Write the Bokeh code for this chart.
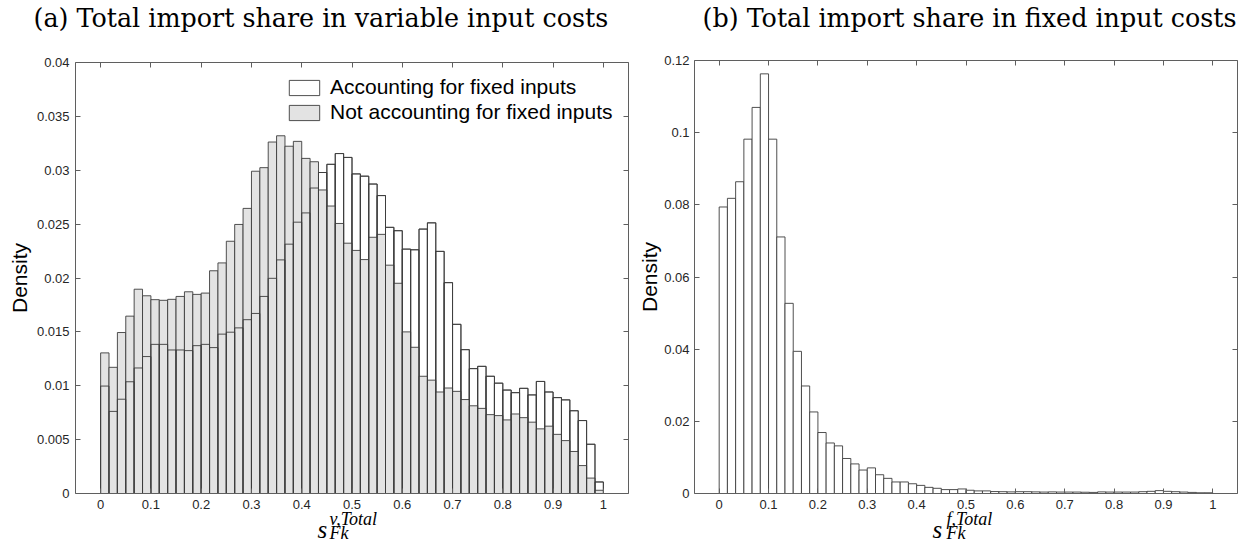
import numpy as np
from bokeh.plotting import figure
from bokeh.layouts import row
from bokeh.models import (FixedTicker, LinearAxis, Label, Legend, LegendItem, Range1d,
                          CustomJSTickFormatter)
from bokeh.embed import file_html
from bokeh.resources import INLINE

# ---------------- data (densities per bin, 60 bins on [0, 1]) ----------------
N_BINS = 60
accounting_fixed = [
    0.00997, 0.00762, 0.00875, 0.01037, 0.01165, 0.01271, 0.01384, 0.01384, 0.01332, 0.01332,
    0.01326, 0.01372, 0.01384, 0.01354, 0.01479, 0.01497, 0.01537, 0.01613, 0.01671, 0.01829,
    0.01997, 0.02168, 0.02314, 0.02518, 0.02604, 0.02835, 0.02979, 0.03055, 0.03155, 0.03119,
    0.02966, 0.02945, 0.02872, 0.02765, 0.02470, 0.02439, 0.02268, 0.02262, 0.02454, 0.02512,
    0.02247, 0.01957, 0.01570, 0.01335, 0.01159, 0.01180, 0.01088, 0.01024, 0.00960, 0.00936,
    0.00976, 0.00915, 0.01040, 0.00942, 0.00890, 0.00869, 0.00768, 0.00677, 0.00457, 0.00107,
]
not_accounting_fixed = [
    0.01305, 0.01171, 0.01494, 0.01646, 0.01896, 0.01835, 0.01799, 0.01793, 0.01802, 0.01829,
    0.01872, 0.01848, 0.01860, 0.02067, 0.02140, 0.02341, 0.02497, 0.02646, 0.02991, 0.03024,
    0.03262, 0.03320, 0.03223, 0.03268, 0.03110, 0.03079, 0.02817, 0.02668, 0.02506, 0.02323,
    0.02256, 0.02171, 0.02378, 0.02405, 0.02119, 0.01951, 0.01500, 0.01357, 0.01088, 0.01052,
    0.00942, 0.00979, 0.00948, 0.00872, 0.00814, 0.00790, 0.00732, 0.00723, 0.00683, 0.00738,
    0.00704, 0.00662, 0.00600, 0.00625, 0.00549, 0.00491, 0.00390, 0.00259, 0.00143, 0.00030,
]
fixed_cost_share = [
    0.0794, 0.0818, 0.0864, 0.0982, 0.1070, 0.1163, 0.0982, 0.0711, 0.0527, 0.0394,
    0.0298, 0.0226, 0.0169, 0.0140, 0.0132, 0.0097, 0.0082, 0.0065, 0.0071, 0.0052,
    0.0042, 0.0032, 0.0032, 0.0027, 0.00225, 0.0017, 0.00144, 0.00108, 0.00108, 0.00126,
    0.0009, 0.00072, 0.00072, 0.00054, 0.0005, 0.00045, 0.0005, 0.0005, 0.00045, 0.0004,
    0.00045, 0.0004, 0.0004, 0.0004, 0.00035, 0.0003, 0.00045, 0.0004, 0.0004, 0.0004,
    0.0004, 0.0005, 0.0006, 0.0008, 0.0006, 0.0005, 0.0004, 0.0003, 0.0002, 0.0002,
]

x_ticks = [0, 0.1, 0.2, 0.3, 0.4, 0.5, 0.6, 0.7, 0.8, 0.9, 1.0]
x_tick_labels = ["0", "0.1", "0.2", "0.3", "0.4", "0.5", "0.6", "0.7", "0.8", "0.9", "1"]
left_y_ticks = [0, 0.005, 0.01, 0.015, 0.02, 0.025, 0.03, 0.035, 0.04]
left_y_tick_labels = ["0", "0.005", "0.01", "0.015", "0.02", "0.025", "0.03", "0.035", "0.04"]
right_y_ticks = [0, 0.02, 0.04, 0.06, 0.08, 0.1, 0.12]
right_y_tick_labels = ["0", "0.02", "0.04", "0.06", "0.08", "0.1", "0.12"]
x_limits = (-0.05, 1.05)
left_y_limits = (0, 0.04)
right_y_limits = (0, 0.12)

title_a = "(a) Total import share in variable input costs"
title_b = "(b) Total import share in fixed input costs"
legend_labels = ["Accounting for fixed inputs", "Not accounting for fixed inputs"]
y_label = "Density"

edges = np.linspace(0.0, 1.0, N_BINS + 1)
lefts, rights = edges[:-1], edges[1:]

AX_COLOR = "#5f5f5f"
TXT_COLOR = "#262626"
BAR_LINE = "#3c3c3c"
GRAY = "#e3e3e3"
SANS = "Liberation Sans"
SERIF = "DejaVu Serif"
MATH = "Liberation Serif"
H = 543


def make_panel(W, box, ylim, yticks, ylabels, ylabel_standoff, ytick_standoff):
    """box = (left, right, top, bottom) of the axes box in canvas pixels."""
    l, r, t, b = box
    sx = (r - l) / (x_limits[1] - x_limits[0])
    sy = (b - t) / (ylim[1] - ylim[0])
    x0 = x_limits[0] - l / sx
    x1 = x_limits[1] + (W - r) / sx
    y0 = ylim[0] - (H - b) / sy
    y1 = ylim[1] + t / sy
    p = figure(width=W, height=H, output_backend="svg", toolbar_location=None,
               x_range=Range1d(x0, x1), y_range=Range1d(y0, y1), min_border=0)
    p.grid.visible = False
    p.outline_line_color = None
    p.background_fill_color = "white"
    p.border_fill_color = "white"

    xax, yax = p.xaxis[0], p.yaxis[0]
    xax.fixed_location = ylim[0]
    xax.bounds = x_limits
    yax.fixed_location = x_limits[0]
    yax.bounds = ylim
    for ax, ticks, labels in ((xax, x_ticks, x_tick_labels), (yax, yticks, ylabels)):
        ax.ticker = FixedTicker(ticks=ticks)
        ax.major_label_overrides = {t: lab for t, lab in zip(ticks, labels)}
    xax.major_label_standoff = 6
    yax.major_label_standoff = ytick_standoff
    yax.axis_label = y_label
    yax.axis_label_text_font = SANS
    yax.axis_label_text_font_size = "21px"
    yax.axis_label_text_font_style = "normal"
    yax.axis_label_text_color = "black"
    yax.axis_label_standoff = ylabel_standoff

    top = LinearAxis(fixed_location=ylim[1], bounds=x_limits, ticker=FixedTicker(ticks=x_ticks),
                     formatter=CustomJSTickFormatter(code="return ''"))
    right = LinearAxis(fixed_location=x_limits[1], bounds=ylim, ticker=FixedTicker(ticks=yticks),
                       formatter=CustomJSTickFormatter(code="return ''"))
    p.add_layout(top, "above")
    p.add_layout(right, "right")
    for ax in (xax, yax, top, right):
        ax.major_tick_in = 5
        ax.major_tick_out = 0
        ax.minor_tick_in = 0
        ax.minor_tick_out = 0
        ax.axis_line_color = AX_COLOR
        ax.major_tick_line_color = AX_COLOR
        ax.major_label_text_font = SANS
        ax.major_label_text_font_size = "13px"
        ax.major_label_text_color = TXT_COLOR

    px2x = lambda px: x0 + px / sx
    px2y = lambda py: y1 - py / sy
    return p, px2x, px2y


def add_title(p, px2x, px2y, text, left_px, base_px):
    p.add_layout(Label(x=px2x(left_px), y=px2y(base_px), text=text, text_font=SERIF,
                       text_font_size="25.4px", text_baseline="alphabetic",
                       text_align="left", text_color="black"))


def add_math(p, px2x, px2y, s_left, sup_left, s_base, sup_base, sub_base, sup, sub):
    p.add_layout(Label(x=px2x(s_left), y=px2y(s_base), text="s", text_font=MATH,
                       text_font_style="italic", text_font_size="25px",
                       text_baseline="alphabetic", text_color="black"))
    p.add_layout(Label(x=px2x(sup_left), y=px2y(sup_base), text=sup, text_font=MATH,
                       text_font_style="italic", text_font_size="18px",
                       text_baseline="alphabetic", text_color="black"))
    p.add_layout(Label(x=px2x(sup_left), y=px2y(sub_base), text=sub, text_font=MATH,
                       text_font_style="italic", text_font_size="18px",
                       text_baseline="alphabetic", text_color="black"))


# ---------------- panel (a) ----------------
W1, W2 = 636, 605
p1, fx1, fy1 = make_panel(W1, (75, 628, 62, 493), left_y_limits, left_y_ticks,
                          left_y_tick_labels, 3, 6)
r_white = p1.quad(left=lefts, right=rights, bottom=0, top=accounting_fixed,
                  fill_color="white", line_color=BAR_LINE, line_width=0.9)
r_gray = p1.quad(left=lefts, right=rights, bottom=0, top=not_accounting_fixed,
                 fill_color=GRAY, line_color=BAR_LINE, line_width=0.9)
p1.quad(left=lefts, right=rights, bottom=0, top=accounting_fixed,
        fill_alpha=0, line_color=BAR_LINE, line_width=0.9)
legend = Legend(items=[LegendItem(label=legend_labels[0], renderers=[r_white]),
                       LegendItem(label=legend_labels[1], renderers=[r_gray])],
                location=(285, 419), margin=0, padding=0, spacing=1,
                glyph_width=38, glyph_height=19, label_standoff=7,
                label_text_font=SANS, label_text_font_size="21px", label_text_color="black",
                border_line_alpha=0, background_fill_alpha=0)
p1.add_layout(legend, "center")
add_title(p1, fx1, fy1, title_a, 33, 17)
add_math(p1, fx1, fy1, 317, 329, 529, 518, 532, "v,Total", "Fk")

# ---------------- panel (b) ----------------
p2, fx2, fy2 = make_panel(W2, (58, 601, 60, 493), right_y_limits, right_y_ticks,
                          right_y_tick_labels, 0, 5)
p2.quad(left=lefts, right=rights, bottom=0, top=fixed_cost_share,
        fill_color="white", line_color=BAR_LINE, line_width=0.9)
add_title(p2, fx2, fy2, title_b, 66, 17)
add_math(p2, fx2, fy2, 296, 310, 529, 518, 532, "f,Total", "Fk")

layout = row(p1, p2)
open("out.html", "w").write(file_html(layout, INLINE))
